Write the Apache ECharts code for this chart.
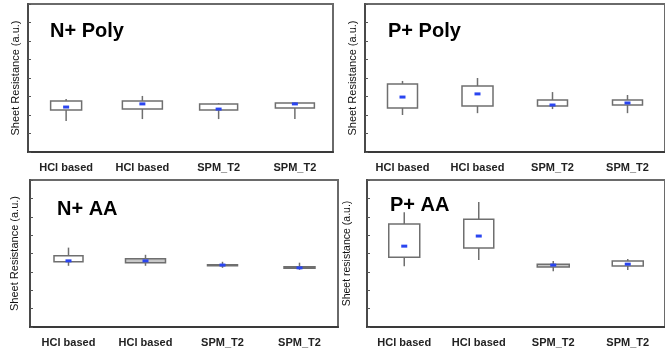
<!DOCTYPE html>
<html>
<head>
<meta charset="utf-8">
<script src="https://cdn.jsdelivr.net/npm/echarts@6/dist/echarts.min.js"></script>
<style>
html, body { margin: 0; padding: 0; background: #fff; }
#main { width: 665px; height: 356px; }
</style>
</head>
<body>
<div id="main"></div>
<script>
// same four samples on every panel
const categories = ['HCl based', 'HCl based', 'SPM_T2', 'SPM_T2'];

// box stats for each sample: [min, q1, median, q3, max] in a.u.
const nPoly = [
    [1.68, 2.27, 2.43, 2.76, 2.86],
    [1.78, 2.32, 2.60, 2.76, 3.03],
    [1.78, 2.27, 2.32, 2.60, 2.65],
    [1.78, 2.38, 2.60, 2.65, 2.68]
];
const pPoly = [
    [2.00, 2.38, 2.97, 3.68, 3.84],
    [2.10, 2.49, 3.14, 3.57, 4.00],
    [2.32, 2.49, 2.54, 2.81, 3.24],
    [2.10, 2.54, 2.65, 2.81, 3.08]
];
const nAA = [
    [3.33, 3.55, 3.60, 3.88, 4.32],
    [3.33, 3.50, 3.60, 3.72, 3.93],
    [3.22, 3.33, 3.37, 3.39, 3.55],
    [3.11, 3.20, 3.22, 3.28, 3.50]
];
const pAA = [
    [3.30, 3.80, 4.40, 5.60, 6.25],
    [3.64, 4.30, 4.95, 5.87, 6.80],
    [3.04, 3.26, 3.37, 3.42, 3.59],
    [3.10, 3.32, 3.42, 3.59, 3.70]
];

const panelTitles = ['N+ Poly', 'P+ Poly', 'N+ AA', 'P+ AA'];
const yNames = ['Sheet Resistance (a.u.)', 'Sheet Resistance (a.u.)', 'Sheet Resistance (a.u.)', 'Sheet resistance (a.u.)'];

const FONT = 'Liberation Sans, Arial, sans-serif';

// layout of the 4 panels
const panels = [
    { data: nPoly, grid: { left: 28, top: 4, width: 305, height: 148 }, title: [50, 21], gap: 7, nameSize: 11, boxW: [31, 40, 38, 39], fill: ['#fff', '#fff', '#fff', '#fff'] },
    { data: pPoly, grid: { left: 365, top: 4, width: 308, height: 148 }, title: [388, 21], gap: 7, nameSize: 11, boxW: [30, 31, 30, 30], fill: ['#fff', '#fff', '#fff', '#fff'] },
    { data: nAA, grid: { left: 30, top: 180, width: 308, height: 147 }, title: [57, 199], gap: 10, nameSize: 11, boxW: [29, 40, 30, 31], fill: ['#fff', '#c8c8c8', '#c8c8c8', '#c8c8c8'] },
    { data: pAA, grid: { left: 367, top: 180, width: 308, height: 147 }, title: [390, 195], gap: 14, nameSize: 10.5, boxW: [31, 30, 32, 31], fill: ['#fff', '#fff', '#c8c8c8', '#fff'] }
];

function makeRender(p) {
    return function (params, api) {
        const i = api.value(0);
        const x = api.coord([i, 0])[0];
        const yMin = api.coord([i, api.value(1)])[1];
        const yQ1 = api.coord([i, api.value(2)])[1];
        const yMed = api.coord([i, api.value(3)])[1];
        const yQ3 = api.coord([i, api.value(4)])[1];
        const yMax = api.coord([i, api.value(5)])[1];
        const w = p.boxW[i];
        return {
            type: 'group',
            children: [
                { type: 'line', shape: { x1: x, y1: yMax, x2: x, y2: yMin }, style: { stroke: '#6f6f6f', lineWidth: 1.5 } },
                { type: 'rect', shape: { x: x - w / 2, y: yQ3, width: w, height: Math.max(yQ1 - yQ3, 1) }, style: { fill: p.fill[i], stroke: '#6f6f6f', lineWidth: 1.5 } },
                { type: 'rect', shape: { x: x - 3, y: yMed - 1.5, width: 6, height: 3 }, style: { fill: '#2a45f0' } }
            ]
        };
    };
}

let grids = [], xAxes = [], yAxes = [], series = [], titles = [];
panels.forEach(function (p, k) {
    grids.push(Object.assign({ show: true, borderColor: '#6a6a6a', borderWidth: 2, containLabel: false }, p.grid));
    xAxes.push({
        type: 'category', gridIndex: k, data: categories,
        axisLine: { lineStyle: { color: '#3a3a3a', width: 2 } },
        axisTick: { inside: true, length: 3, lineStyle: { color: '#555' } },
        axisLabel: { margin: 10, fontSize: 11, fontWeight: 'bold', color: '#222', fontFamily: FONT, interval: 0 }
    });
    yAxes.push({
        type: 'value', gridIndex: k, min: 0, max: 8, interval: 1,
        name: yNames[k], nameLocation: 'middle', nameGap: p.gap,
        nameTextStyle: { fontSize: p.nameSize, color: '#111', fontFamily: FONT },
        axisLine: { show: true, lineStyle: { color: '#4a4a4a', width: 2 } },
        axisTick: { show: true, inside: true, length: 3, lineStyle: { color: '#555' } },
        axisLabel: { show: false },
        splitLine: { show: false }
    });
    series.push({
        type: 'custom', xAxisIndex: k, yAxisIndex: k,
        renderItem: makeRender(p),
        encode: { x: 0, y: [1, 2, 3, 4, 5] },
        data: p.data.map(function (b, i) { return [i].concat(b); })
    });
    titles.push({
        text: panelTitles[k], left: p.title[0], top: p.title[1], padding: 0,
        textStyle: { fontSize: 20, fontWeight: 'bold', color: '#000', fontFamily: FONT }
    });
});

let myChart = echarts.init(document.getElementById('main'));
myChart.setOption({
    animation: false,
    title: titles,
    grid: grids,
    xAxis: xAxes,
    yAxis: yAxes,
    series: series
});
</script>
</body>
</html>
